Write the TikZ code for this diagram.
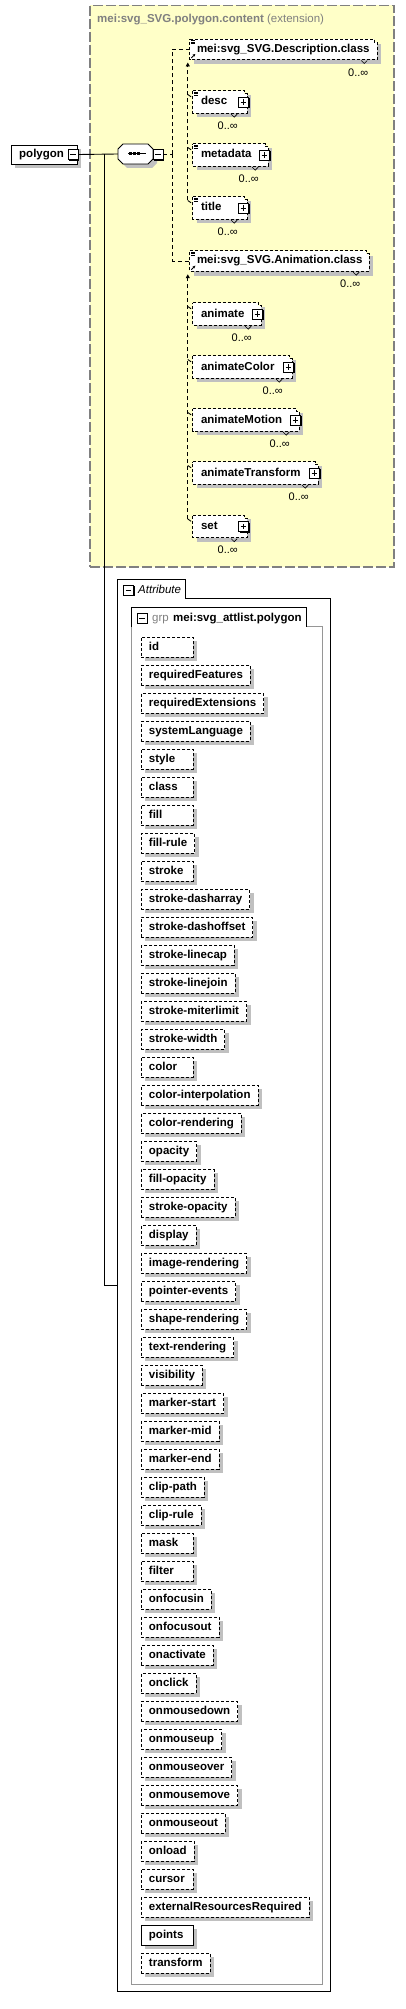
\documentclass[tikz,border=0pt]{standalone}
\usepackage{fontspec}
\setmainfont{Liberation Sans}
\usetikzlibrary{shadows,arrows.meta}
\definecolor{yel}{RGB}{255,255,200}
\definecolor{shgray}{RGB}{192,192,192}
\definecolor{bordgray}{RGB}{128,128,128}
\definecolor{txtgray}{RGB}{128,128,128}
\definecolor{grpgray}{RGB}{150,150,150}
\newcommand\fsA{\fontsize{11.5}{13}\selectfont}
\newcommand\fsB{\fontsize{11}{13}\selectfont}
\newcommand\lft[1]{\setbox0\hbox{#1}\ifdim\wd0<37pt \hbox to 37pt{\box0\hfil}\else\box0\fi}
\tikzset{
  dsh/.style={dash pattern=on 3pt off 2pt, line width=0.9pt},
  conn/.style={dash pattern=on 4pt off 3pt, line width=0.9pt},
  solidln/.style={line width=0.9pt},
  lbl/.style={font=\fsA\bfseries, text height=8.5pt, text depth=2.5pt, inner sep=0pt, anchor=west},
  occ/.style={font=\fsB, inner sep=0pt},
  hid/.style={inner sep=0pt, minimum height=#1},
  boxsh/.style={drop shadow={shadow xshift=4pt, shadow yshift=-4pt, fill=shgray, opacity=1}},
  attr/.style={draw, dsh, fill=white, anchor=north west, minimum height=20pt,
     inner xsep=7.5pt, inner ysep=0pt, font=\fsA\bfseries, text height=8.5pt, text depth=2.5pt, boxsh},
  mbx/.style={draw, solidln, fill=white, minimum size=10pt, inner sep=0pt,
     drop shadow={shadow xshift=1.3pt, shadow yshift=-1.3pt, fill=black, opacity=1},
     path picture={\draw[line width=0.9pt] ([xshift=2.3pt]path picture bounding box.west) -- ([xshift=-2.3pt]path picture bounding box.east);}},
  pbx/.style={draw, solidln, fill=white, minimum size=10pt, inner sep=0pt,
     drop shadow={shadow xshift=1.3pt, shadow yshift=-1.3pt, fill=black, opacity=1},
     path picture={\draw[line width=0.9pt] ([xshift=2.3pt]path picture bounding box.west) -- ([xshift=-2.3pt]path picture bounding box.east);
       \draw[line width=0.9pt] ([yshift=-2.3pt]path picture bounding box.north) -- ([yshift=2.3pt]path picture bounding box.south);}},
}
\newcommand\docicon[1]{\foreach \k in {0,1,2} {\draw[line width=0.5pt] ([shift={(1,{1.5+1.4*\k})}]#1.north west) -- ++(4.5,0);}}
\newcommand\elemnode[5]{%
  \pgfmathsetmacro\ew{#3-193}%
  \pgfmathsetmacro\ex{(#3+193)/2}%
  \node[hid=22pt, minimum width=\ew pt] (#1) at (\ex,#4) {};
  \fill[shgray] ([shift={(4,4)}]#1.north west) rectangle ([shift={(4,4)}]#1.south east);
  \path[draw, fill=white, dsh] (#1.north west) -- ([xshift=-3pt]#1.north east) -- ++(0,3) -- ++(3,0) -- (#1.south east) -- (#1.south west) -- cycle;
  \node[lbl] (#1t) at ([xshift=8pt]#1.west) {#2};
  \node[pbx] (#1p) at ([xshift=-4pt]#1.east) {};
  \draw[line width=0.6pt] ([shift={(-16,1)}]#1.south east) -- ++(3,3) -- ++(3,-3);
  \node[occ] (#1o) at ([shift={(-19.5,23.5)}]#1.east) {0..∞};
  \ifnum#5=1 \docicon{#1}\fi
}
\newcommand\grpnode[5]{%
  \pgfmathsetmacro\gw{#4-#3}%
  \pgfmathsetmacro\gx{(#4+#3)/2}%
  \node[hid=20pt, minimum width=\gw pt] (#1) at (\gx,#5) {};
  \fill[shgray] ([shift={(4,5)}]#1.north west) rectangle ([shift={(4,5)}]#1.south east);
  \path[draw, fill=white, dsh] (#1.north west) -- ([xshift=-3pt]#1.north east) -- ++(0,3) -- ++(3,0) -- (#1.south east) -- (#1.south west) -- cycle;
  \node[lbl] (#1t) at ([xshift=7pt]#1.west) {#2};
  \draw[line width=0.6pt] ([shift={(-16,1)}]#1.south east) -- ++(3,3) -- ++(3,-3);
  \node[occ] (#1o) at ([shift={(-19,23)}]#1.east) {0..∞};
  \docicon{#1}
  \draw[line width=0.8pt, -{Stealth[length=2.5pt,width=2.8pt]}] ([shift={(1.5,-1.5)}]#1.south west) -- ++(4,-4);
}
\begin{document}
\begin{tikzpicture}[x=1pt,y=-1pt]
\useasboundingbox (0,0) rectangle (405,2009);
% content (extension) box
\node[hid=561.5pt, minimum width=304pt, fill=yel, draw=bordgray, dash pattern=on 10pt off 3pt, line width=1.2pt] (content) at (242,286.25) {};
\node[anchor=west, inner sep=0pt, text=txtgray, font=\fsA, text height=8.5pt, text depth=2.5pt] (ctitle) at (97,19.5) {\textbf{mei:svg\_SVG.polygon.content} (extension)};

% polygon element
\node[hid=19pt, minimum width=66pt, draw, solidln, fill=white, boxsh] (poly) at (44,154.5) {};
\node[lbl] (polyt) at (19,154.5) {polygon};
\node[mbx] (polym) at (73,154.5) {};

% sequence compositor
\node[hid=20pt, minimum width=35pt] (seq) at (135.5,154) {};
\fill[shgray] (127,148) -- (152,148) -- (157,153) -- (157,163) -- (152,168) -- (127,168) -- (122,163) -- (122,153) -- cycle;
\filldraw[fill=white, solidln] (123,144) -- (148,144) -- (153,149) -- (153,159) -- (148,164) -- (123,164) -- (118,159) -- (118,149) -- cycle;
\draw[line width=1pt] (128,154) -- (146,154);
\foreach \dx in {130.5,134.7,138.7} {\fill (\dx-1.3,152.5) rectangle (\dx+1.3,155.5);}
\node[mbx] (seqm) at (158,154.5) {};

% group refs and elements
\grpnode{dcls}{mei:svg\_SVG.Description.class}{190}{377}{49.3}
\elemnode{desc}{desc}{247}{102}{1}
\elemnode{meta}{metadata}{268}{155}{1}
\elemnode{title}{title}{247}{208}{1}
\grpnode{acls}{mei:svg\_SVG.Animation.class}{190}{369}{261}
\elemnode{anim}{animate}{261}{314}{0}
\elemnode{acol}{animateColor}{292}{367}{0}
\elemnode{amot}{animateMotion}{299}{420}{0}
\elemnode{atra}{animateTransform}{318}{473}{0}
\elemnode{aset}{set}{247}{526.5}{0}

% attribute frame
\node[hid=1411pt, minimum width=212pt] (attrframe) at (224,1285.5) {};
\draw[solidln] (attrframe.north west) -- ++(68,0) -- ++(0,19) -- ([yshift=-19pt]attrframe.north east) -- (attrframe.south east) -- (attrframe.south west) -- cycle;
\node[mbx] (atm) at (128.5,590) {};
\node[anchor=west, inner sep=0pt, font=\fsA\itshape, text height=8.5pt, text depth=2.5pt] (atl) at (138,590) {Attribute};

\node[hid=1376pt, minimum width=190pt] (grpframe) at (227,1296) {};
\draw[solidln, grpgray] ([xshift=175pt,yshift=-19pt]grpframe.north west) -- ([yshift=-19pt]grpframe.north east) -- (grpframe.south east) -- (grpframe.south west) -- ([yshift=-19pt]grpframe.north west);
\draw[solidln] ([yshift=-19pt]grpframe.north west) -- (grpframe.north west) -- ++(175,0) -- ++(0,19);
\node[mbx] (gm) at (142,618) {};
\node[anchor=west, inner sep=0pt, font=\fsA, text=txtgray, text height=8.5pt, text depth=2.5pt] (gg) at (152,618) {grp};
\node[lbl] (gn) at (173,618) {mei:svg\_attlist.polygon};

\foreach \t [count=\i from 0] in {id,requiredFeatures,requiredExtensions,systemLanguage,style,class,fill,fill-rule,stroke,stroke-dasharray,stroke-dashoffset,stroke-linecap,stroke-linejoin,stroke-miterlimit,stroke-width,color,color-interpolation,color-rendering,opacity,fill-opacity,stroke-opacity,display,image-rendering,pointer-events,shape-rendering,text-rendering,visibility,marker-start,marker-mid,marker-end,clip-path,clip-rule,mask,filter,onfocusin,onfocusout,onactivate,onclick,onmousedown,onmouseup,onmouseover,onmousemove,onmouseout,onload,cursor,externalResourcesRequired}
  {\node[attr] (a\i) at (141,{637+28*\i}) {\lft{\t}};}
\node[attr, solid] (a46) at (141,1925) {\lft{points}};
\node[attr] (a47) at (141,1953) {\lft{transform}};

% connectors
\draw[solidln] (polym.east) -- (seq.west);
\coordinate (jn) at (104,154.5);
\draw[solidln] (jn) |- (attrframe.west);
\draw[conn] (seqm.east) -- ++(9,0) coordinate (jd);
\draw[conn] (jd) |- (dcls.west);
\draw[conn] (jd) |- (acls.west);
\draw[conn, -{Triangle[length=4pt,width=4pt]}] ([shift={(-5,-7.5)}]title.west) -- ([shift={(-2,3)}]dcls.south west);
\foreach \c in {desc,meta,title} {\draw[conn] ([shift={(-5,-7.5)}]\c.west) -- ([yshift=4pt]\c.west);}
\draw[conn, -{Triangle[length=4pt,width=4pt]}] ([shift={(-5,-7.5)}]aset.west) -- ([shift={(-2,3)}]acls.south west);
\foreach \c in {anim,acol,amot,atra,aset} {\draw[conn] ([shift={(-5,-7.5)}]\c.west) -- ([yshift=4pt]\c.west);}
\end{tikzpicture}
\end{document}
